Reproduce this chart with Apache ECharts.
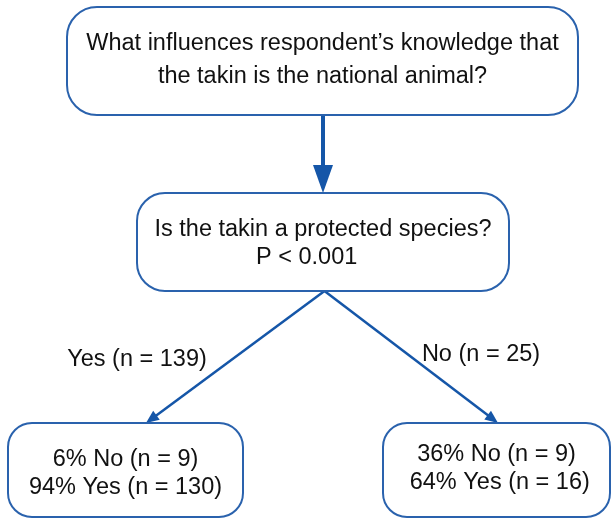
<!DOCTYPE html>
<html>
<head>
<meta charset="utf-8">
<title>Takin knowledge decision tree</title>
<script src="https://cdn.jsdelivr.net/npm/echarts@6/dist/echarts.min.js"></script>
<style>
  html, body { margin: 0; padding: 0; background: #fff; }
  #chart { width: 612px; height: 518px; }
</style>
</head>
<body>
<div id="chart"></div>
<script>
// texts and counts
const rootLines = ['What influences respondent’s knowledge that', 'the takin is the national animal?']
const splitQuestion = 'Is the takin a protected species?'
const splitP = 'P < 0.001'
const branchNames = ['Yes', 'No']
const branchN = [139, 25]
const outcomeNoPct = [6, 36]
const outcomeNoN = [9, 9]
const outcomeYesPct = [94, 64]
const outcomeYesN = [130, 16]

// layout of the boxes (pixel units of the 612x518 canvas)
const boxLayout = {
  root: { cx: 322.5, cy: 61, w: 511, h: 108, r: 30, textCy: 60, lh: 33 },
  split: { cx: 323, cy: 242, w: 372, h: 98, r: 28, textCy: 243.5, lh: 28 },
  left: { cx: 125.5, cy: 470, w: 235, h: 94, r: 24, textCy: 474, lh: 28 },
  right: { cx: 496.5, cy: 470, w: 227, h: 94, r: 24, textCy: 469, lh: 28 }
}
// where the branch arrows hit the child boxes, and where the branch labels sit
const branchTipX = [146, 498]
const branchLabelPos = [[137, 360], [481, 355]]

const BLUE = '#2a62ad'
const ARROW = '#1556a8'
const FONT = '"Liberation Sans", Arial, sans-serif'
const FS = 23.5

const boxTexts = {
  root: rootLines.join('\n'),
  split: splitQuestion + '\n' + splitP + '     ',
  left: `${outcomeNoPct[0]}% No (n = ${outcomeNoN[0]})\n${outcomeYesPct[0]}% Yes (n = ${outcomeYesN[0]})`,
  right: `${outcomeNoPct[1]}% No (n = ${outcomeNoN[1]})\n ${outcomeYesPct[1]}% Yes (n = ${outcomeYesN[1]})`
}
const boxKeys = ['root', 'split', 'left', 'right']

const boxData = boxKeys.map(k => {
  const b = boxLayout[k]
  return { name: k, value: [b.cx, b.cy, b.w, b.h] }
})

// main arrow: root bottom -> split top
const rootBox = boxLayout.root
const splitBox = boxLayout.split
const mainHead = [20, 28]
const mainFrom = [rootBox.cx + 0.5, rootBox.cy + rootBox.h / 2]
const mainTip = [rootBox.cx + 0.5, splitBox.cy - splitBox.h / 2]
const mainTo = [mainTip[0], mainTip[1] - mainHead[1] / 2]

// branch arrows: split bottom -> child tops
const branchHead = [11, 13]
const branchFrom = [splitBox.cx + 1.5, splitBox.cy + splitBox.h / 2]
const branchLines = ['left', 'right'].map((k, i) => {
  const b = boxLayout[k]
  const tip = [branchTipX[i], b.cy - b.h / 2]
  const dx = tip[0] - branchFrom[0]
  const dy = tip[1] - branchFrom[1]
  const len = Math.sqrt(dx * dx + dy * dy)
  const back = branchHead[1] / 2
  return { coords: [branchFrom, [tip[0] - dx / len * back, tip[1] - dy / len * back]] }
})

const branchLabelData = branchNames.map((n, i) => ({
  name: `${n} (n = ${branchN[i]})`,
  value: branchLabelPos[i]
}))

const chart = echarts.init(document.getElementById('chart'))

chart.setOption({
  backgroundColor: '#fff',
  animation: false,
  grid: { left: 0, right: 0, top: 0, bottom: 0 },
  xAxis: { type: 'value', min: 0, max: 612, show: false },
  yAxis: { type: 'value', min: 0, max: 518, inverse: true, show: false },
  series: [
    {
      type: 'lines',
      coordinateSystem: 'cartesian2d',
      z: 1,
      symbol: ['none', 'triangle'],
      symbolSize: [0, mainHead],
      lineStyle: { color: ARROW, width: 4, opacity: 1 },
      data: [{ coords: [mainFrom, mainTo] }]
    },
    {
      type: 'lines',
      coordinateSystem: 'cartesian2d',
      z: 1,
      symbol: ['none', 'triangle'],
      symbolSize: [0, branchHead],
      lineStyle: { color: ARROW, width: 2.5, opacity: 1 },
      data: branchLines
    },
    {
      type: 'custom',
      coordinateSystem: 'cartesian2d',
      z: 2,
      data: boxData,
      renderItem: (params, api) => {
        const key = boxKeys[params.dataIndex]
        const b = boxLayout[key]
        const c = api.coord([api.value(0), api.value(1)])
        const s = api.size([api.value(2), api.value(3)])
        const tc = api.coord([api.value(0), b.textCy])
        return {
          type: 'group',
          children: [
            {
              type: 'rect',
              shape: { x: c[0] - s[0] / 2, y: c[1] - s[1] / 2, width: s[0], height: s[1], r: b.r },
              style: { fill: '#fff', stroke: BLUE, lineWidth: 2 }
            },
            {
              type: 'text',
              x: tc[0],
              y: tc[1],
              style: {
                text: boxTexts[key],
                fill: '#111',
                fontFamily: FONT,
                fontSize: FS,
                lineHeight: b.lh,
                align: 'center',
                verticalAlign: 'middle'
              }
            }
          ]
        }
      }
    },
    {
      type: 'scatter',
      z: 3,
      symbolSize: 0,
      itemStyle: { opacity: 1 },
      data: branchLabelData,
      label: {
        show: true,
        position: 'inside',
        formatter: '{b}',
        color: '#111',
        opacity: 1,
        fontFamily: FONT,
        fontSize: FS
      }
    }
  ]
})
</script>
</body>
</html>
